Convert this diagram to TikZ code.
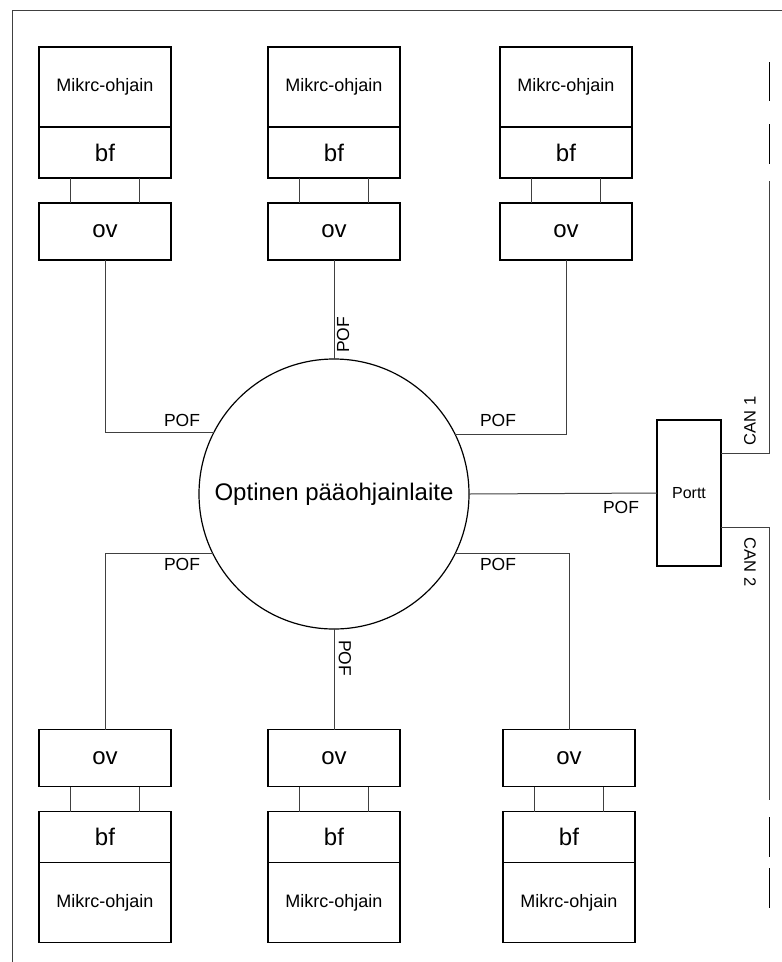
\documentclass[tikz,border=0pt]{standalone}
\usepackage{fontspec}
\setmainfont{Liberation Sans}
\usetikzlibrary{positioning,calc}
\tikzset{
  box/.style={draw=black, line width=1.2pt, minimum width=132pt, inner sep=0pt,
    outer sep=0pt, align=center},
  mcu/.style={box, minimum height=80pt, font=\fontsize{18}{20}\selectfont},
  bfbox/.style={box, minimum height=51pt, font=\fontsize{24}{26}\selectfont},
  ovbox/.style={box, minimum height=57pt, font=\fontsize{24}{26}\selectfont},
  link/.style={draw=black!75, line width=1pt},
  pof/.style={font=\fontsize{17.5}{19}\selectfont, inner sep=0pt},
  can/.style={font=\fontsize{16.5}{18}\selectfont, inner sep=0pt}
}

\begin{document}
\begin{tikzpicture}[x=1pt,y=-1pt]
  \useasboundingbox (0,0) rectangle (782,962);
  \draw[line width=1pt, black!75] (12,975) -- (12,10) -- (795,10);

  \node[circle, draw, line width=1.2pt, minimum size=270pt, inner sep=0pt, outer sep=0pt,
    font=\fontsize{24}{26}\selectfont] (circ) at (334,494) {Optinen pääohjainlaite};
  \node[draw, line width=1.2pt, minimum width=64pt, minimum height=146pt, outer sep=0pt,
    font=\fontsize{16}{18}\selectfont] (port) at (689,493) {Portt};

  \foreach \i/\xt/\xb in {1/105/105, 2/334/334, 3/566/569} {
    \node[mcu] (mcuT\i) at (\xt,87) {Mikrc-ohjain};
    \node[bfbox, below=0pt of mcuT\i] (bfT\i) {bf};
    \node[ovbox, below=25pt of bfT\i] (ovT\i) {ov};
    \draw[link] ($(bfT\i.south west)+(31,0)$) -- ($(ovT\i.north west)+(31,0)$);
    \draw[link] ($(bfT\i.south west)+(100,0)$) -- ($(ovT\i.north west)+(100,0)$);

    \node[ovbox] (ovB\i) at (\xb,758) {ov};
    \node[bfbox, below=25pt of ovB\i] (bfB\i) {bf};
    \node[mcu, below=0pt of bfB\i] (mcuB\i) {Mikrc-ohjain};
    \draw[link] ($(ovB\i.south west)+(31,0)$) -- ($(bfB\i.north west)+(31,0)$);
    \draw[link] ($(ovB\i.south west)+(100,0)$) -- ($(bfB\i.north west)+(100,0)$);
  }

  \draw[link] (ovT1.south) |- (circ.153.6);
  \draw[link] (ovT2.south) -- (circ.north);
  \draw[link] (ovT3.south) |- (circ.26.4);
  \draw[link] (ovB1.north) |- (circ.206.4);
  \draw[link] (ovB2.north) -- (circ.south);
  \draw[link] (ovB3.north) |- (circ.-26.4);
  \draw[link] (circ.east) -- (port.west);

  \node[pof] (pofT1) at (182,420) {POF};
  \node[pof, rotate=90] (pofT2) at (343,335) {POF};
  \node[pof] (pofT3) at (498,420) {POF};
  \node[pof] (pofB1) at (182,564) {POF};
  \node[pof, rotate=-90] (pofB2) at (345,658) {POF};
  \node[pof] (pofB3) at (498,564) {POF};
  \node[pof] (pofP) at (621,507) {POF};

  \coordinate (can1) at (769,181);
  \coordinate (can2) at (769,800);
  \draw[link] ($(port.north east)+(0,33)$) -| (can1);
  \draw[link] ($(port.south east)+(0,-39)$) -| (can2);
  \node[can, rotate=90] (can1lbl) at (750,421) {CAN 1};
  \node[can, rotate=-90] (can2lbl) at (750,562) {CAN 2};

  \draw[line width=1pt] (769,62) -- (769,101) (769,124) -- (769,164)
    (769,817) -- (769,857) (769,868) -- (769,908);
\end{tikzpicture}
\end{document}
